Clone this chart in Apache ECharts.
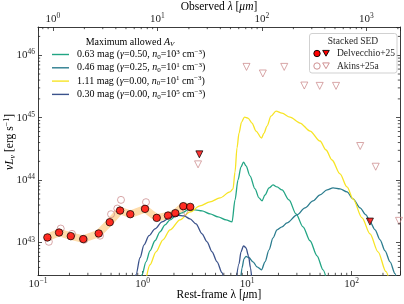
<!DOCTYPE html>
<html><head><meta charset="utf-8">
<script src="https://cdn.jsdelivr.net/npm/echarts@6/dist/echarts.min.js"></script>
<style>html,body{margin:0;padding:0;background:#fff}#c{width:404px;height:304px}</style>
</head><body><div id="c"></div>
<script>
// ---------------- data ----------------
const redshift = 6.2;
const xRange = [0.1, 291];            // rest-frame wavelength, micron
const yRange = [3.03e42, 2.83e46];    // nu L_nu, erg/s
const restTicks = [0.1, 1, 10, 100];
const obsTicks = [1, 10, 100, 1000];
const lumTicks = [1e43, 1e44, 1e45, 1e46];

const delvecchioWave = [0.123,0.159,0.206,0.271,0.381,0.486,0.61,0.764,1.057,1.368,1.754,2.06,2.455,2.864];
const delvecchioLum  = [1.21e43,1.45e43,1.27e43,1.14e43,1.40e43,2.12e43,3.26e43,2.85e43,3.47e43,2.49e43,2.71e43,2.96e43,3.83e43,3.73e43];
const delvecchioLimWave = [3.50, 150];
const delvecchioLimLum  = [2.59e44, 2.17e43];

const akinsWave = [0.127,0.165,0.2115,0.277,0.392,0.50,0.574,0.6225,1.08];
const akinsLum  = [1.03e43,1.68e43,1.38e43,1.11e43,1.29e43,2.85e43,3.51e43,4.83e43,4.44e43];
const akinsLimWave = [2.57,3.40,9.89,14.17,22.7,35.35,49.6,71.1,121.1,170.4,284.8];
const akinsLimLum  = [3.03e43,1.79e44,6.5e45,5.1e45,6.5e45,3.27e45,3.23e45,3.23e45,3.52e44,1.64e44,2.23e43];

const model063Wave = [0.946,0.989,1.080,1.180,1.317,1.471,1.642,1.834,2.092,2.388,2.726,3.18,3.71,4.425,5.28,6.30,7.19,7.677,8.20,8.76,9.26,9.78,10.68,11.93,13.02,13.92,14.87,16.24,17.74,19.37,21.62,25.23,29.44,34.35,40.09,46.77,53.39,58.30];
const model063Lum  = [2.37e42,3.06e42,4.93e42,7.39e42,1.07e43,1.49e43,1.92e43,2.31e43,2.68e43,2.99e43,3.34e43,3.34e43,3.22e43,2.88e43,2.58e43,2.31e43,2.15e43,4.83e43,1.01e44,1.63e44,1.95e44,1.69e44,1.17e44,7.23e43,5.20e43,4.66e43,5.81e43,7.50e43,8.38e43,7.78e43,6.97e43,4.83e43,2.88e43,1.79e43,1.07e43,6.15e42,3.67e42,2.37e42];

const model046Wave = [8.667,8.957,9.36,9.78,10.45,11.41,12.46,13.77,14.87,16.24,17.74,19.37,21.62,24.14,30.10,35.89,42.81,49.96,58.30,66.53,77.62,90.56,103.4,120.6,137.6,150.3,167.9,187.4,209.2,233.6,260.9,272.6];
const model046Lum  = [2.37e42,3.95e42,5.51e42,6.04e42,5.72e42,4.93e42,4.10e42,3.67e42,4.93e42,7.67e42,1.19e43,1.60e43,1.79e43,2.07e43,2.78e43,3.60e43,4.66e43,5.81e43,6.97e43,7.50e43,7.23e43,6.49e43,5.01e43,3.60e43,2.78e43,2.15e43,1.60e43,1.11e43,7.39e42,4.93e42,3.18e42,2.45e42];

const model111Wave = [1.08,1.18,1.346,1.571,1.834,2.285,2.848,3.549,4.425,5.515,6.876,7.345,7.677,8.02,8.384,8.86,9.465,10.22,11.16,12.19,13.77,14.55,15.54,16.97,18.95,21.62,25.79,32.16,40.09,49.96,57.02,65.08,77.62,90.56,103.4,126.1,150.3,179.3,213.8,233.6];
const model111Lum  = [2.55e42,4.42e42,7.13e42,1.11e43,1.60e43,2.31e43,3.10e43,3.87e43,4.49e43,5.20e43,6.49e43,7.23e43,1.35e44,3.27e44,5.67e44,8.51e44,1.02e45,9.86e44,8.21e44,6.11e44,4.72e44,5.67e44,7.35e44,1.06e45,1.27e45,1.18e45,1.02e45,8.21e44,6.11e44,4.23e44,3.04e44,2.10e44,1.26e44,7.78e43,5.01e43,2.49e43,1.38e43,7.13e42,3.42e42,2.20e42];

const model030Wave = [0.829,0.867,0.9465,1.034,1.154,1.317,1.537,1.834,2.186,2.495,2.848,3.25,3.71,4.142,4.626,5.164,5.766,6.026];
const model030Lum  = [2.37e42,3.06e42,5.72e42,9.22e42,1.29e43,1.66e43,2.15e43,2.53e43,2.73e43,2.68e43,2.40e43,2.00e43,1.38e43,1.03e43,7.13e42,4.93e42,3.29e42,2.45e42];
const model030BumpWave = [7.85,8.384,8.76,9.26,9.78,10.33,10.80,11.16];
const model030BumpLum  = [2.37e42,4.58e42,7.13e42,8.89e42,8.26e42,6.15e42,3.95e42,2.37e42];

const modelNames = ['0.63 mag', '0.46 mag', '1.11 mag', '0.30 mag'];
const modelGamma = ['0.50', '0.25', '0.00', '0.00'];
const modelN0exp = ['3', '1', '1', '5'];
const modelColors = ['#22a584', '#2b7c8e', '#f7e425', '#3b528b'];

// ---------------- helpers ----------------
const FONT = 'Liberation Serif';
const INK = '#262626';
const zip = (a, b) => a.slice(0, Math.min(a.length, b.length)).map((v, i) => [v, b[i]]);
const isIn = (list, v) => list.some(t => Math.abs(Math.log10(t) - Math.log10(v)) < 1e-6);
function powLabel(list) {
  return v => {
    if (!isIn(list, v)) return '';
    const e = Math.round(Math.log10(v));
    return '{b|10}{s|' + (e < 0 ? '\u2212' + (-e) : e) + '}';
  };
}
const richTick = {
  b: {fontSize: 11, fontFamily: FONT, color: INK, lineHeight: 14},
  s: {fontSize: 7.5, fontFamily: FONT, color: INK, lineHeight: 8, verticalAlign: 'top'}
};
function minorValues(lo, hi) {
  const out = [];
  for (let e = Math.floor(Math.log10(lo)); e <= Math.ceil(Math.log10(hi)); e++)
    for (let k = 2; k <= 9; k++) { const v = k * Math.pow(10, e); if (v > lo && v < hi) out.push(v); }
  return out;
}
const obsRange = [xRange[0] * (1 + redshift), xRange[1] * (1 + redshift)];
const tickStyle = {stroke: INK, lineWidth: 0.8};

function minorSeries(kind) {
  let data, xi = 0;
  if (kind === 'bottom') data = minorValues(xRange[0], xRange[1]).map(v => [v, yRange[0]]);
  if (kind === 'top') { data = minorValues(obsRange[0], obsRange[1]).map(v => [v, yRange[0]]); xi = 1; }
  if (kind === 'y') data = minorValues(yRange[0], yRange[1]).map(v => [xRange[0], v]);
  return {
    type: 'custom', xAxisIndex: xi, yAxisIndex: 0, silent: true, z: 6, data,
    renderItem: (params, api) => {
      const p = api.coord([api.value(0), api.value(1)]);
      const cs = params.coordSys, L = 2.2;
      let ch;
      if (kind === 'bottom') { const b = cs.y + cs.height; ch = [{type:'line', shape:{x1:p[0], y1:b, x2:p[0], y2:b-L}, style:tickStyle}]; }
      else if (kind === 'top') { ch = [{type:'line', shape:{x1:p[0], y1:cs.y, x2:p[0], y2:cs.y+L}, style:tickStyle}]; }
      else { const r = cs.x + cs.width; ch = [
        {type:'line', shape:{x1:cs.x, y1:p[1], x2:cs.x+L, y2:p[1]}, style:tickStyle},
        {type:'line', shape:{x1:r, y1:p[1], x2:r-L, y2:p[1]}, style:tickStyle}]; }
      return {type: 'group', children: ch};
    }
  };
}

function axisBase() {
  return {
    type: 'log', logBase: 10,
    axisLine: {show: true, onZero: false, lineStyle: {color: INK, width: 0.9}},
    axisTick: {show: true, inside: true, length: 4, lineStyle: {color: INK, width: 0.8}},
    splitLine: {show: false}, minorTick: {show: false}, minorSplitLine: {show: false}
  };
}

const curveSeries = (name, wave, lum, color) => ({
  type: 'line', name, data: zip(wave, lum), showSymbol: false, symbol: 'none',
  smooth: 0.3, smoothMonotone: 'x', clip: true, z: 2, silent: true,
  lineStyle: {color, width: 1.3}
});

const option = {
  animation: false,
  backgroundColor: '#fff',
  grid: {left: 38, right: 4, top: 27, bottom: 29, containLabel: false},
  xAxis: [
    Object.assign(axisBase(), {position: 'bottom', min: xRange[0], max: xRange[1],
      axisLabel: {formatter: powLabel(restTicks), rich: richTick, margin: 2}}),
    Object.assign(axisBase(), {position: 'top', min: obsRange[0], max: obsRange[1],
      axisLabel: {formatter: powLabel(obsTicks), rich: richTick, margin: 1}})
  ],
  yAxis: [
    Object.assign(axisBase(), {position: 'left', min: yRange[0], max: yRange[1],
      axisLabel: {formatter: powLabel(lumTicks), rich: richTick, margin: 3}}),
    Object.assign(axisBase(), {position: 'right', min: yRange[0], max: yRange[1],
      axisLabel: {show: false}})
  ],
  series: [
    {type: 'line', name: 'band', data: zip(delvecchioWave, delvecchioLum), symbol: 'none', z: 1, silent: true,
      lineStyle: {color: '#fedcab', width: 7.5, cap: 'round', join: 'round'}},
    curveSeries(modelNames[0], model063Wave, model063Lum, modelColors[0]),
    curveSeries(modelNames[1], model046Wave, model046Lum, modelColors[1]),
    curveSeries(modelNames[2], model111Wave, model111Lum, modelColors[2]),
    curveSeries(modelNames[3], model030Wave, model030Lum, modelColors[3]),
    curveSeries(modelNames[3], model030BumpWave, model030BumpLum, modelColors[3]),
    {type: 'scatter', name: 'Akins+25a', data: zip(akinsWave, akinsLum), symbol: 'circle', symbolSize: 7, z: 3, silent: true,
      itemStyle: {color: 'rgba(255,255,255,0)', borderColor: '#c98486', borderWidth: 0.9}},
    {type: 'scatter', name: 'Akins+25a lim', data: zip(akinsLimWave, akinsLimLum), symbol: 'triangle', symbolRotate: 180, symbolSize: 7, z: 3, silent: true,
      itemStyle: {color: 'rgba(255,255,255,0)', borderColor: '#c98486', borderWidth: 0.9}},
    {type: 'scatter', name: 'Delvecchio+25', data: zip(delvecchioWave, delvecchioLum), symbol: 'circle', symbolSize: 7.5, z: 4, silent: true,
      itemStyle: {color: '#ff0000', borderColor: '#000', borderWidth: 0.9}},
    {type: 'scatter', name: 'Delvecchio+25 lim', data: zip(delvecchioLimWave, delvecchioLimLum), symbol: 'triangle', symbolRotate: 180, symbolSize: 7, z: 4, silent: true,
      itemStyle: {color: '#ff0000', borderColor: '#000', borderWidth: 0.9}},
    minorSeries('bottom'), minorSeries('top'), minorSeries('y')
  ]
};

// ---------------- legends & axis titles (graphic) ----------------
const lf = 10;
const richLeg = {
  t: {fontSize: lf, fontFamily: FONT, color: INK, lineHeight: 12},
  i: {fontSize: lf, fontFamily: FONT, fontStyle: 'italic', color: INK, lineHeight: 12},
  p: {fontSize: 7, fontFamily: FONT, color: INK, lineHeight: 7, verticalAlign: 'top'},
  d: {fontSize: 7, fontFamily: FONT, color: INK, lineHeight: 7, verticalAlign: 'bottom'},
  di: {fontSize: 7, fontFamily: FONT, fontStyle: 'italic', color: INK, lineHeight: 7, verticalAlign: 'bottom'}
};
const g = [];
g.push({type: 'text', x: 130, y: 42, z: 20, style: {text: '{t|Maximum allowed }{i|A}{di|V}', rich: richLeg, align: 'center', verticalAlign: 'middle'}});
for (let k = 0; k < 4; k++) {
  const y = 54.5 + k * 13.3;
  g.push({type: 'line', z: 20, shape: {x1: 52, y1: y, x2: 69, y2: y}, style: {stroke: modelColors[k], lineWidth: 1.4}});
  g.push({type: 'text', x: 77, y: y, z: 20, style: {
    text: '{t|' + modelNames[k] + ' (}{i|\u03b3}{t|=' + modelGamma[k] + ', }{i|n}{d|0}{t|=10}{p|' + modelN0exp[k] + '}{t| cm}{p|\u22123}{t|)}',
    rich: richLeg, align: 'left', verticalAlign: 'middle'}});
}
// data legend box
const df = 9.5;
g.push({type: 'rect', z: 20, shape: {x: 309.5, y: 33.5, width: 87.5, height: 39.5, r: 2.5},
  style: {fill: 'rgba(255,255,255,0.85)', stroke: '#cccccc', lineWidth: 0.9}});
g.push({type: 'text', x: 353, y: 41.5, z: 21, style: {text: 'Stacked SED', font: df + 'px ' + FONT, fill: INK, align: 'center', verticalAlign: 'middle'}});
const tri = (cx, cy, s) => [[cx - s, cy - s * 0.85], [cx + s, cy - s * 0.85], [cx, cy + s * 0.9]];
g.push({type: 'circle', z: 21, shape: {cx: 317, cy: 53.5, r: 3.2}, style: {fill: '#ff0000', stroke: '#000', lineWidth: 0.9}});
g.push({type: 'polygon', z: 21, shape: {points: tri(326, 53.2, 3.3)}, style: {fill: '#ff0000', stroke: '#000', lineWidth: 0.9}});
g.push({type: 'text', x: 337, y: 53.5, z: 21, style: {text: 'Delvecchio+25', font: df + 'px ' + FONT, fill: INK, align: 'left', verticalAlign: 'middle'}});
g.push({type: 'circle', z: 21, shape: {cx: 317, cy: 66, r: 3.2}, style: {fill: 'none', stroke: '#c98486', lineWidth: 0.9}});
g.push({type: 'polygon', z: 21, shape: {points: tri(326, 65.7, 3.3)}, style: {fill: 'none', stroke: '#c98486', lineWidth: 0.9}});
g.push({type: 'text', x: 337, y: 66, z: 21, style: {text: 'Akins+25a', font: df + 'px ' + FONT, fill: INK, align: 'left', verticalAlign: 'middle'}});
// axis titles
const richAx = {
  t: {fontSize: 11.5, fontFamily: FONT, color: INK, lineHeight: 14},
  i: {fontSize: 11.5, fontFamily: FONT, fontStyle: 'italic', color: INK, lineHeight: 14},
  p: {fontSize: 8, fontFamily: FONT, color: INK, lineHeight: 8, verticalAlign: 'top'},
  d: {fontSize: 8, fontFamily: FONT, fontStyle: 'italic', color: INK, lineHeight: 8, verticalAlign: 'bottom'}
};
g.push({type: 'text', x: 219, y: 295, z: 20, style: {text: '{t|Rest-frame \u03bb [}{i|\u03bc}{t|m]}', rich: richAx, align: 'center', verticalAlign: 'middle'}});
g.push({type: 'text', x: 219, y: 7, z: 20, style: {text: '{t|Observed }{i|\u03bb}{t| [}{i|\u03bcm}{t|]}', rich: richAx, align: 'center', verticalAlign: 'middle'}});
g.push({type: 'text', x: 10, y: 142, z: 20, rotation: Math.PI / 2, style: {text: '{i|\u03bdL}{d|\u03bd}{t| [erg s}{p|\u22121}{t|]}', rich: richAx, align: 'center', verticalAlign: 'middle'}});
option.graphic = g;

const chart = echarts.init(document.getElementById('c'));
chart.setOption(option);
</script></body></html>
